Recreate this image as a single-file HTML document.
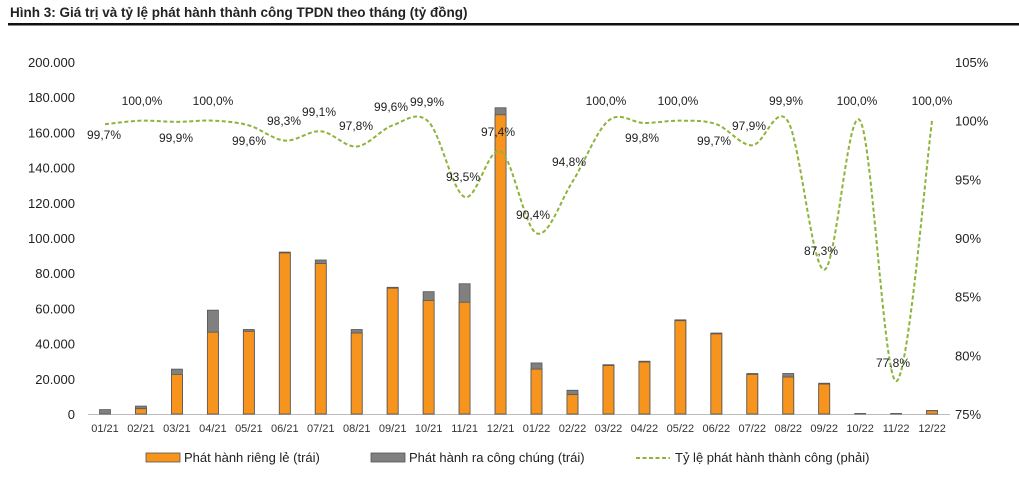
<!DOCTYPE html>
<html><head><meta charset="utf-8">
<style>
body{margin:0;background:#fff;width:1019px;height:472px;overflow:hidden;font-family:"Liberation Sans",Arial,sans-serif;}
</style></head>
<body>
<svg id="c" width="1019" height="472" xmlns="http://www.w3.org/2000/svg" font-family="Liberation Sans, Arial, sans-serif">
<text x="10" y="17" font-size="13.5" font-weight="bold" fill="#222">Hình 3: Giá trị và tỷ lệ phát hành thành công TPDN theo tháng (tỷ đồng)</text>
<rect x="8" y="23" width="1011" height="2.5" fill="#111"/>
<line x1="88" y1="414.5" x2="950" y2="414.5" stroke="#bbb" stroke-width="1"/>
</svg>
<script>
const s=document.getElementById('c');const NS='http://www.w3.org/2000/svg';
function el(t,a,txt){const e=document.createElementNS(NS,t);for(const k in a)e.setAttribute(k,a[k]);if(txt!==undefined)e.textContent=txt;s.appendChild(e);return e;}
const cats=['01/21','02/21','03/21','04/21','05/21','06/21','07/21','08/21','09/21','10/21','11/21','12/21','01/22','02/22','03/22','04/22','05/22','06/22','07/22','08/22','09/22','10/22','11/22','12/22'];
const tot=[2500,4500,25500,59000,48000,92000,87500,48000,72000,69500,74000,174000,29000,13500,28000,30000,53500,46000,23000,23000,17500,300,300,2000];
const org=[0,3000,22500,46500,47000,91500,85500,46000,71500,64500,63500,170000,25500,11000,27500,29500,53000,45500,22500,21000,17000,0,0,1800];
const r=[99.7,100,99.9,100,99.6,98.3,99.1,97.8,99.6,99.9,93.5,97.4,90.4,94.8,100,99.8,100,99.7,97.9,99.9,87.3,100,77.8,100];
const lp=[[104,139],[142,105],[176,142],[213,105],[249,145],[284,125],[319,116],[356,130],[391,111],[427,106],[463,181],[498,136],[533,219],[569,166],[606,105],[642,142],[678,105],[714,145],[749,130],[786,105],[821,255],[857,105],[893,367],[932,105]];
const X=i=>105+i*35.96, Y=v=>414-v/200000*352, R=v=>414-(v-75)*352/30;
for(let i=0;i<=10;i++){el('text',{x:75,y:Y(i*20000)+5,'font-size':13,'text-anchor':'end',fill:'#222'},i==0?'0':(i*20).toFixed(0)+'.000');}
for(let i=0;i<=6;i++){el('text',{x:955,y:R(75+i*5)+5,'font-size':13,fill:'#222'},(75+i*5)+'%');}
cats.forEach((c,i)=>{const x=X(i);
 el('rect',{x:x-5.5,y:Y(tot[i]),width:11,height:Y(0)-Y(tot[i]),fill:'#808080',stroke:'#555','stroke-width':0.8});
 if(org[i]>0)el('rect',{x:x-5.5,y:Y(org[i]),width:11,height:Y(0)-Y(org[i]),fill:'#f7941d',stroke:'#555','stroke-width':0.8});
 el('text',{x:x,y:432,'font-size':11,'text-anchor':'middle',fill:'#333'},c);});
let p=r.map((v,i)=>[X(i),R(v)]);let d='M'+p[0][0]+','+p[0][1];
for(let i=0;i<p.length-1;i++){const p0=p[i-1]||p[i],p1=p[i],p2=p[i+1],p3=p[i+2]||p2;
 d+=` C${p1[0]+(p2[0]-p0[0])/6},${p1[1]+(p2[1]-p0[1])/6} ${p2[0]-(p3[0]-p1[0])/6},${p2[1]-(p3[1]-p1[1])/6} ${p2[0]},${p2[1]}`;}
el('path',{d:d,fill:'none',stroke:'#8db33a','stroke-width':2,'stroke-dasharray':'4,2.5'});
r.forEach((v,i)=>el('text',{x:lp[i][0],y:lp[i][1],'font-size':12,'text-anchor':'middle',fill:'#222'},v.toFixed(1).replace('.',',')+'%'));
el('rect',{x:146,y:453,width:34,height:9,fill:'#f7941d',stroke:'#555','stroke-width':0.8});
el('text',{x:184,y:462,'font-size':13,fill:'#222'},'Phát hành riêng lẻ (trái)');
el('rect',{x:371,y:453,width:34,height:9,fill:'#808080',stroke:'#555','stroke-width':0.8});
el('text',{x:409,y:462,'font-size':13,fill:'#222'},'Phát hành ra công chúng (trái)');
el('line',{x1:636,y1:458,x2:670,y2:458,stroke:'#8db33a','stroke-width':2,'stroke-dasharray':'4,2.5'});
el('text',{x:675,y:462,'font-size':13,fill:'#222'},'Tỷ lệ phát hành thành công (phải)');
</script>
</body></html>
